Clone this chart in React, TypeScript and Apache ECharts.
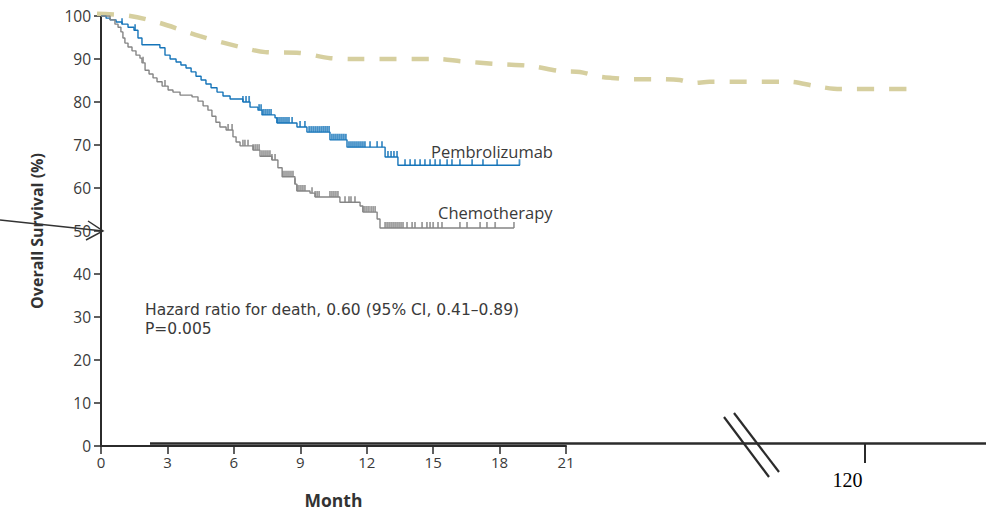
import React, { useEffect, useRef } from "react";
import * as echarts from "echarts";

// ---- Data ----
const monthTicks = [0, 3, 6, 9, 12, 15, 18, 21];
const survivalTicks = [0, 10, 20, 30, 40, 50, 60, 70, 80, 90, 100];
const farMonthTicks = [120];

// Kaplan–Meier steps: [month, overall survival %]
const pembroCurve: [number, number][] = [
  [0, 100], [0.23, 99.5], [0.41, 99.1], [0.68, 98.6], [0.95, 98.1], [1.22, 97.4],
  [1.49, 96.7], [1.67, 94.9], [1.85, 93.3], [2.66, 92.6], [2.89, 90.9], [3.12, 90.0],
  [3.39, 89.3], [3.61, 88.6], [3.84, 87.9], [4.07, 87.0], [4.29, 86.0], [4.52, 85.1],
  [4.74, 84.2], [4.97, 83.3], [5.24, 82.3], [5.51, 81.4], [5.83, 80.7], [6.41, 80.0],
  [6.73, 78.8], [7.09, 78.1], [7.27, 77.0], [7.86, 76.3], [7.95, 75.1], [8.85, 74.2],
  [9.3, 73.0], [10.34, 71.2], [11.11, 69.5], [12.83, 67.2], [13.41, 65.3], [18.92, 65.3],
];
const pembroCensor = [
  0.95, 1.54, 6.41, 6.55, 6.69, 7.14, 7.23, 7.32, 7.41, 7.5, 7.59, 7.68, 7.95, 8.04, 8.13,
  8.22, 8.31, 8.4, 8.49, 8.63, 8.99, 9.21, 9.4, 9.49, 9.58, 9.67, 9.76, 9.85, 9.94, 10.03,
  10.12, 10.21, 10.3, 10.43, 10.52, 10.61, 10.7, 10.79, 10.88, 10.97, 11.06, 11.2, 11.29,
  11.38, 11.47, 11.56, 11.65, 11.74, 11.83, 11.92, 12.15, 12.47, 12.69, 12.96, 13.1, 13.23,
  13.37, 13.73, 13.96, 14.18, 14.41, 14.63, 14.86, 15.09, 15.31, 15.63, 15.85, 16.21, 16.76,
  17.25, 17.89, 18.9,
];

const chemoCurve: [number, number][] = [
  [0, 100], [0.41, 99.1], [0.63, 98.1], [0.77, 97.4], [0.9, 96.3], [0.99, 94.9], [1.08, 93.7],
  [1.22, 92.8], [1.4, 91.9], [1.58, 90.9], [1.76, 90.2], [1.85, 89.1], [1.99, 87.4],
  [2.17, 86.5], [2.35, 85.6], [2.53, 84.7], [2.76, 83.7], [3.03, 82.8], [3.25, 82.3],
  [3.57, 81.6], [4.11, 81.2], [4.38, 80.2], [4.61, 79.1], [4.83, 78.1], [5.01, 76.7],
  [5.19, 75.3], [5.37, 74.2], [5.65, 73.5], [5.96, 71.9], [6.1, 70.7], [6.28, 69.8],
  [6.87, 68.8], [7.18, 67.4], [7.72, 66.5], [7.99, 64.7], [8.18, 62.6], [8.76, 60.9],
  [8.85, 59.3], [9.44, 58.8], [9.67, 57.9], [10.79, 56.7], [11.7, 55.8], [11.83, 54.4],
  [12.47, 52.8], [12.6, 50.7], [18.65, 50.7],
];
const chemoCensor = [
  1.9, 2.89, 5.74, 5.92, 6.41, 6.5, 6.64, 6.87, 6.96, 7.05, 7.14, 7.27, 7.36, 7.45, 7.54, 7.63,
  7.72, 7.86, 8.22, 8.31, 8.4, 8.49, 8.58, 8.67, 8.76, 8.85, 8.94, 9.03, 9.12, 9.21, 9.53,
  9.67, 9.76, 9.85, 10.34, 10.43, 10.52, 10.61, 10.7, 11.02, 11.2, 11.29, 11.47, 11.83, 11.92,
  12.01, 12.1, 12.2, 12.29, 12.38, 12.83, 12.92, 13.01, 13.1, 13.19, 13.28, 13.37, 13.46,
  13.55, 13.64, 13.82, 14.05, 14.18, 14.5, 14.72, 14.86, 15.0, 15.22, 15.4, 16.21, 16.53,
  17.12, 17.43, 17.8, 18.65,
];

// Long-horizon dashed curve on the broken (far) month axis: [month, %]
const longTermCurve: [number, number][] = [
  [0, 100.5], [5.2, 100], [9.8, 98.4], [16.1, 95.3], [22.4, 92.8], [26.3, 91.6], [31.7, 91.4],
  [36.5, 90.2], [41.1, 90.0], [53.6, 90.0], [56.8, 89.5], [63.0, 88.8], [67.7, 88.4],
  [72.4, 87.2], [75.5, 87.0], [78.2, 86.0], [80.5, 85.6], [83.3, 85.3], [88.0, 85.3],
  [91.1, 85.1], [93.2, 84.4], [95.8, 84.7], [108.3, 84.7], [112.3, 83.7], [116.2, 83.0],
  [128.8, 83.0],
];

const seriesNames = ["Pembrolizumab", "Chemotherapy"];
const hazardText = "Hazard ratio for death, 0.60 (95% CI, 0.41\u20130.89)";
const pValueText = "P=0.005";

function levelAt(curve: [number, number][], t: number) {
  let v = curve[0][1];
  for (const [x, y] of curve) if (x <= t + 1e-9) v = y;
  return v;
}

const FONT = "'Open Sans', 'Noto Sans', sans-serif";
const NOTE_FONT = "'DejaVu Sans', 'Open Sans', sans-serif";
const BLUE = "#1574b9";
const GRAY = "#858585";
const AXIS = "#2b2b2b";
const TEXT = "#3a3a3a";

export default function App() {
  const ref = useRef<HTMLDivElement>(null);

  useEffect(() => {
    if (!ref.current) return;
    const chart = echarts.init(ref.current, undefined, { renderer: "svg" });

    const censorSeries = (name: string, times: number[], curve: [number, number][], color: string) => ({
      name: name + " censored",
      type: "scatter",
      xAxisIndex: 0,
      yAxisIndex: 0,
      symbol: "rect",
      symbolSize: [1.8, 6],
      symbolOffset: [0, -3],
      itemStyle: { color },
      silent: true,
      data: times.map((t) => [t, levelAt(curve, t)]),
      z: 3,
    });

    chart.setOption({
      animation: false,
      grid: [
        { left: 101, top: 16, width: 465, height: 430, outerBoundsMode: "none", containLabel: false },
        { left: 97, top: 16, width: 889, height: 430, outerBoundsMode: "none", containLabel: false },
      ],
      xAxis: [
        {
          type: "value",
          gridIndex: 0,
          min: 0,
          max: 21,
          interval: 3,
          axisLine: { lineStyle: { color: AXIS, width: 2 } },
          axisTick: { length: 8, lineStyle: { color: AXIS, width: 1.5 } },
          axisLabel: {
            margin: 8,
            fontSize: 15,
            color: TEXT,
            fontFamily: FONT,
            customValues: monthTicks,
          },
          splitLine: { show: false },
          name: "Month",
          nameLocation: "middle",
          nameGap: 45,
          nameTextStyle: { fontWeight: "bold", fontSize: 17.5, color: "#333", fontFamily: FONT },
        },
        {
          type: "value",
          gridIndex: 1,
          min: 0,
          max: 139,
          offset: -3,
          axisLine: { show: false },
          axisTick: {
            show: true,
            customValues: farMonthTicks,
            length: 20,
            lineStyle: { color: AXIS, width: 2 },
          },
          axisLabel: {
            show: true,
            customValues: farMonthTicks,
            margin: 27,
            align: "right",
            padding: [0, 2, 0, 0],
            fontSize: 20,
            color: "#000",
            fontFamily: "'Liberation Serif', 'Times New Roman', serif",
          },
          splitLine: { show: false },
        },
      ],
      yAxis: [
        {
          type: "value",
          gridIndex: 0,
          min: 0,
          max: 100,
          interval: 10,
          axisLine: { show: true, lineStyle: { color: AXIS, width: 2 } },
          axisTick: { show: true, length: 7, lineStyle: { color: AXIS, width: 1.5 } },
          axisLabel: {
            margin: 10,
            fontSize: 15.5,
            color: TEXT,
            fontFamily: FONT,
            customValues: survivalTicks,
          },
          splitLine: { show: false },
          name: "Overall Survival (%)",
          nameLocation: "middle",
          nameRotate: 90,
          nameGap: 56,
          nameTextStyle: { fontWeight: "bold", fontSize: 16, color: "#333", fontFamily: FONT },
        },
        {
          type: "value",
          gridIndex: 1,
          min: 0,
          max: 100,
          show: false,
        },
      ],
      series: [
        {
          name: "Long-term",
          type: "line",
          xAxisIndex: 1,
          yAxisIndex: 1,
          data: longTermCurve,
          smooth: 0.3,
          symbol: "none",
          clip: false,
          silent: true,
          lineStyle: { color: "#d6cf9f", width: 4.5, type: [17, 15] },
          z: 1,
        },
        {
          name: seriesNames[0],
          type: "line",
          xAxisIndex: 0,
          yAxisIndex: 0,
          step: "end",
          data: pembroCurve,
          symbol: "none",
          silent: true,
          lineStyle: { color: BLUE, width: 1.4 },
          z: 3,
        },
        censorSeries(seriesNames[0], pembroCensor, pembroCurve, BLUE),
        {
          name: seriesNames[1],
          type: "line",
          xAxisIndex: 0,
          yAxisIndex: 0,
          step: "end",
          data: chemoCurve,
          symbol: "none",
          silent: true,
          lineStyle: { color: GRAY, width: 1.4 },
          z: 3,
        },
        censorSeries(seriesNames[1], chemoCensor, chemoCurve, GRAY),
      ],
      graphic: [
        // continued (long-horizon) axis line
        {
          type: "line",
          shape: { x1: 150, y1: 443.5, x2: 986, y2: 443.5 },
          style: { stroke: AXIS, lineWidth: 2.5 },
          silent: true,
        },
        // axis break marks
        {
          type: "line",
          shape: { x1: 724, y1: 417, x2: 769, y2: 477 },
          style: { stroke: AXIS, lineWidth: 2.2 },
          silent: true,
        },
        {
          type: "line",
          shape: { x1: 734, y1: 413, x2: 779, y2: 472 },
          style: { stroke: AXIS, lineWidth: 2.2 },
          silent: true,
        },
        // arrow pointing at 50%
        {
          type: "line",
          shape: { x1: 0, y1: 220, x2: 103, y2: 231 },
          style: { stroke: "#333", lineWidth: 1.5 },
          silent: true,
        },
        {
          type: "polyline",
          shape: { points: [[88, 221], [103, 231], [86, 240]] },
          style: { stroke: "#333", lineWidth: 1.5, fill: null },
          silent: true,
        },
        {
          type: "text",
          x: 431,
          y: 151,
          style: {
            text: seriesNames[0],
            fontSize: 16.5,
            fontFamily: FONT,
            fill: TEXT,
            verticalAlign: "middle",
          },
        },
        {
          type: "text",
          x: 438,
          y: 212,
          style: {
            text: seriesNames[1],
            fontSize: 16.5,
            fontFamily: FONT,
            fill: TEXT,
            verticalAlign: "middle",
          },
        },
        {
          type: "text",
          x: 145,
          y: 310,
          style: {
            text: hazardText,
            fontSize: 15.5,
            fontFamily: NOTE_FONT,
            fill: TEXT,
            verticalAlign: "middle",
          },
        },
        {
          type: "text",
          x: 145,
          y: 329,
          style: {
            text: pValueText,
            fontSize: 15.5,
            fontFamily: NOTE_FONT,
            fill: TEXT,
            verticalAlign: "middle",
          },
        },
      ],
    });

    return () => chart.dispose();
  }, []);

  return (
    <div
      ref={ref}
      style={{ position: "fixed", left: 0, top: 0, width: 986, height: 512, background: "#fff" }}
    />
  );
}
